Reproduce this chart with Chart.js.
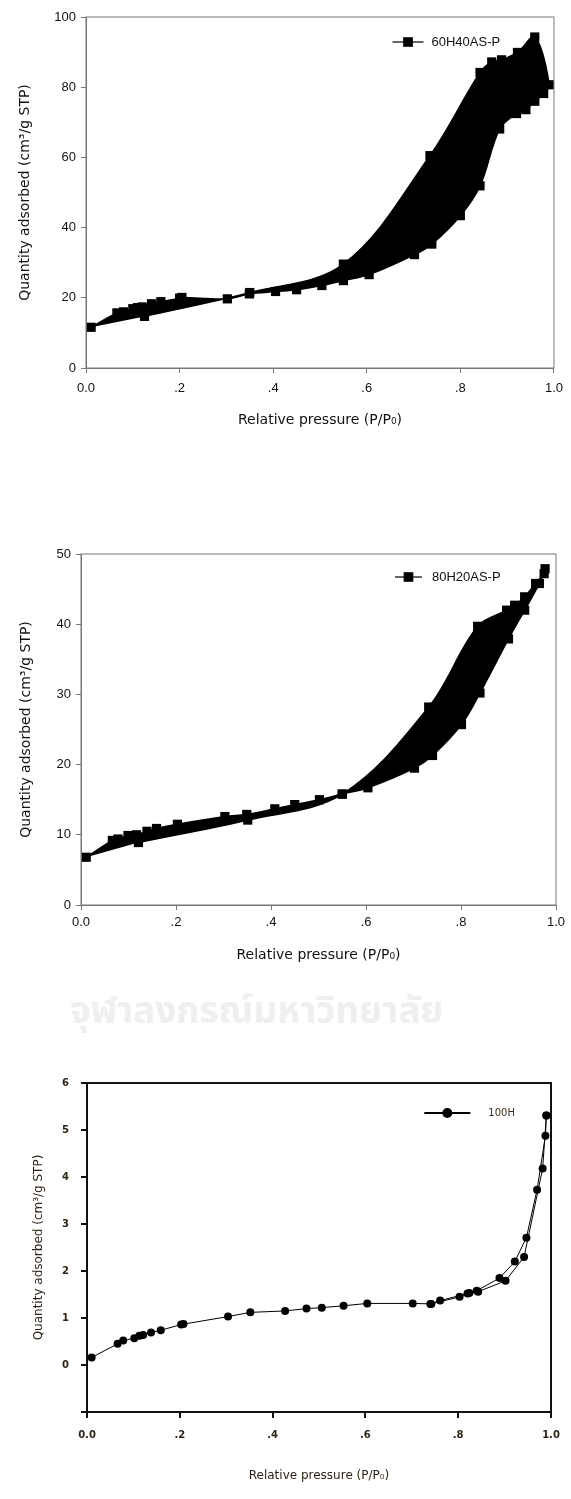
<!DOCTYPE html>
<html>
<head>
<meta charset="utf-8">
<script src="https://cdn.jsdelivr.net/npm/chart.js@4.4.0/dist/chart.umd.min.js"></script>
<style>
  body { margin: 0; background: #fff; }
  #page { position: relative; width: 571px; height: 1499px; overflow: hidden; }
  .box { position: absolute; left: 0; width: 571px; }
  .wm { position: absolute; color: #efefef; font-weight: bold; white-space: nowrap;
        font-family: "Noto Sans Thai", "Noto Sans", "DejaVu Sans", sans-serif; }
</style>
</head>
<body>
<div id="page">
  <div class="box" style="top:0;height:440px"><canvas id="c60"></canvas></div>
  <div class="wm" style="left:70px;top:984px;font-size:37px">จุฬาลงกรณ์มหาวิทยาลัย</div>
  <div class="box" style="top:500px;height:470px"><canvas id="c80"></canvas></div>
  <div class="box" style="top:1040px;height:459px"><canvas id="c100"></canvas></div>
</div>
<script>
// 60H40AS-P : adsorption then desorption branch
var p60Ads = [0.011, 0.066, 0.080, 0.100, 0.110, 0.120, 0.140, 0.160, 0.200, 0.205, 0.302, 0.349, 0.405, 0.450, 0.504, 0.550, 0.605, 0.702, 0.739, 0.800, 0.842, 0.884, 0.920, 0.940, 0.959, 0.978, 0.990];
var q60Ads = [11.6, 15.7, 16.0, 16.9, 17.2, 17.4, 18.3, 18.9, 19.9, 20.1, 19.7, 21.1, 21.8, 22.3, 23.5, 24.9, 26.6, 32.3, 35.3, 43.4, 51.9, 68.1, 72.5, 73.6, 76.0, 78.2, 80.7];
var p60Des = [0.959, 0.922, 0.888, 0.867, 0.842, 0.735, 0.550, 0.350, 0.125];
var q60Des = [94.3, 89.9, 87.8, 87.2, 84.2, 60.5, 29.6, 21.5, 14.7];

// 80H20AS-P
var p80Ads = [0.011, 0.066, 0.078, 0.099, 0.117, 0.139, 0.159, 0.203, 0.303, 0.349, 0.408, 0.450, 0.502, 0.550, 0.604, 0.702, 0.740, 0.801, 0.840, 0.900, 0.934, 0.965, 0.977];
var q80Ads = [6.8, 9.2, 9.4, 9.9, 10.0, 10.5, 10.9, 11.5, 12.6, 12.9, 13.7, 14.3, 15.0, 15.8, 16.7, 19.5, 21.3, 25.7, 30.2, 37.9, 42.0, 45.8, 47.9];
var p80Des = [0.975, 0.957, 0.934, 0.913, 0.896, 0.835, 0.732, 0.550, 0.351, 0.121];
var q80Des = [47.2, 45.8, 43.9, 42.7, 42.0, 39.7, 28.2, 15.8, 12.1, 8.9];

// 100H
var p100Ads = [0.010, 0.066, 0.078, 0.102, 0.113, 0.121, 0.138, 0.159, 0.203, 0.208, 0.304, 0.352, 0.427, 0.473, 0.506, 0.553, 0.604, 0.702, 0.742, 0.803, 0.824, 0.843, 0.902, 0.942, 0.982, 0.990];
var q100Ads = [0.16, 0.45, 0.52, 0.57, 0.62, 0.64, 0.69, 0.74, 0.86, 0.87, 1.03, 1.12, 1.15, 1.20, 1.22, 1.26, 1.31, 1.31, 1.30, 1.45, 1.53, 1.56, 1.79, 2.30, 4.18, 5.31];
var p100Des = [0.990, 0.988, 0.970, 0.947, 0.922, 0.889, 0.840, 0.820, 0.761, 0.740];
var q100Des = [5.31, 4.88, 3.73, 2.71, 2.20, 1.85, 1.58, 1.52, 1.37, 1.30];

var xTicks = [0, 0.2, 0.4, 0.6, 0.8, 1.0];
var xTitle = 'Relative pressure (P/P\u2080)';
var yTitle = 'Quantity adsorbed (cm\u00b3/g STP)';

function pts(px, py) {
  return px.map(function (p, i) { return { x: p, y: py[i] }; });
}

function fmtP(v) {
  var s = Number(v).toFixed(1);
  return (s === '0.0' || s === '1.0') ? s : s.replace(/^0/, '');
}

var frame = {
  id: 'frame',
  afterDraw: function (chart, args, o) {
    var a = chart.chartArea, ctx = chart.ctx;
    ctx.save();
    ctx.strokeStyle = o.color;
    ctx.lineWidth = o.width;
    ctx.strokeRect(a.left, a.top, a.right - a.left, a.bottom - a.top);
    ctx.restore();
  }
};

// legend drawn inside the plot: line + marker + label
var keyLegend = {
  id: 'keyLegend',
  afterDatasetsDraw: function (chart, args, o) {
    var a = chart.chartArea, ctx = chart.ctx;
    var x0 = a.left + o.fx * (a.right - a.left), y = a.top + o.dy;
    ctx.save();
    ctx.strokeStyle = '#000';
    ctx.fillStyle = '#000';
    ctx.lineWidth = o.lineWidth;
    ctx.beginPath(); ctx.moveTo(x0, y); ctx.lineTo(x0 + o.len, y); ctx.stroke();
    Chart.helpers.drawPoint(ctx, { pointStyle: o.style, radius: o.radius, borderWidth: 1 }, x0 + o.len / 2, y);
    ctx.fillStyle = o.color;
    ctx.font = o.font;
    ctx.textBaseline = 'middle';
    ctx.fillText(chart.data.datasets[0].label, x0 + o.len + o.gap, y);
    ctx.restore();
  }
};

function axes(o) {
  return {
    x: {
      type: 'linear', min: 0, max: 1,
      afterFit: function (s) { s.height = o.xh; },
      afterBuildTicks: function (s) { s.ticks = xTicks.map(function (v) { return { value: v }; }); },
      ticks: { padding: o.xpad, color: o.tc, font: o.tf, maxRotation: 0, callback: fmtP },
      grid: { drawOnChartArea: false, drawTicks: true, tickLength: o.tl, color: o.ac, lineWidth: o.aw },
      border: { color: o.ac, width: o.aw },
      title: { display: true, text: xTitle, color: o.tc, font: o.ttf, padding: { top: 0, bottom: o.xtp } }
    },
    y: {
      type: 'linear', min: o.ymin, max: o.ymax,
      afterFit: function (s) { s.width = o.yw; },
      ticks: { stepSize: o.ystep, padding: o.ypad, color: o.tc, font: o.tf,
               callback: function (v) { return v < 0 ? '' : v; } },
      grid: { drawOnChartArea: false, drawTicks: true, tickLength: o.tl, color: o.ac, lineWidth: o.aw },
      border: { color: o.ac, width: o.aw },
      title: { display: true, text: yTitle, color: o.tc, font: o.ttf, padding: { top: o.ytp, bottom: 0 } }
    }
  };
}

var sansTick = { family: 'Liberation Sans, Arial, sans-serif', size: 13 };
var sansTitle = { family: 'DejaVu Sans, sans-serif', size: 14 };

// chart 1: 60H40AS-P (hysteresis loop filled)
new Chart(document.getElementById('c60'), {
  type: 'line',
  data: {
    datasets: [{
      label: '60H40AS-P',
      data: pts(p60Ads.concat(p60Des), q60Ads.concat(q60Des)),
      borderColor: '#000', backgroundColor: '#000', borderWidth: 1.5,
      fill: 'shape', tension: 0.35,
      pointStyle: 'rect', pointRadius: 6.5, pointBackgroundColor: '#000', pointBorderWidth: 0
    }]
  },
  options: {
    responsive: true, maintainAspectRatio: false, animation: false, devicePixelRatio: 1,
    layout: { padding: { top: 17, right: 8, left: 0, bottom: 0 } },
    plugins: {
      legend: { display: false }, tooltip: { enabled: false },
      frame: { color: '#777', width: 1 },
      keyLegend: { fx: 0.655, dy: 25, len: 31, gap: 8, radius: 6, style: 'rect', lineWidth: 1.2,
                   color: '#111', font: '13px "Liberation Sans", Arial, sans-serif' }
    },
    scales: axes({ xh: 72, xpad: 8, yw: 86, ypad: 5, tl: 5, tc: '#111', ac: '#777', aw: 1,
                   tf: sansTick, ttf: sansTitle, xtp: 11, ytp: 17, ymin: 0, ymax: 100, ystep: 20 })
  },
  plugins: [frame, keyLegend]
});

// chart 2: 80H20AS-P
new Chart(document.getElementById('c80'), {
  type: 'line',
  data: {
    datasets: [{
      label: '80H20AS-P',
      data: pts(p80Ads.concat(p80Des), q80Ads.concat(q80Des)),
      borderColor: '#000', backgroundColor: '#000', borderWidth: 1.5,
      fill: 'shape', tension: 0.35,
      pointStyle: 'rect', pointRadius: 6.5, pointBackgroundColor: '#000', pointBorderWidth: 0
    }]
  },
  options: {
    responsive: true, maintainAspectRatio: false, animation: false, devicePixelRatio: 1,
    layout: { padding: { top: 54, right: 15, left: 0, bottom: 0 } },
    plugins: {
      legend: { display: false }, tooltip: { enabled: false },
      frame: { color: '#777', width: 1 },
      keyLegend: { fx: 0.661, dy: 23, len: 27, gap: 10, radius: 6, style: 'rect', lineWidth: 1.2,
                   color: '#111', font: '13px "Liberation Sans", Arial, sans-serif' }
    },
    scales: axes({ xh: 65, xpad: 5, yw: 81, ypad: 5, tl: 5, tc: '#111', ac: '#777', aw: 1,
                   tf: sansTick, ttf: sansTitle, xtp: 6, ytp: 18, ymin: 0, ymax: 50, ystep: 10 })
  },
  plugins: [frame, keyLegend]
});

// chart 3: 100H, adsorption and desorption as two thin lines
var smallTick = { family: 'DejaVu Sans, sans-serif', size: 10, weight: 'bold' };
var smallTitle = { family: 'DejaVu Sans, sans-serif', size: 12 };
new Chart(document.getElementById('c100'), {
  type: 'line',
  data: {
    datasets: [{
      label: '100H',
      data: pts(p100Ads, q100Ads),
      borderColor: '#000', borderWidth: 1, fill: false, tension: 0,
      pointStyle: 'circle', pointRadius: 4, pointBackgroundColor: '#000', pointBorderWidth: 0
    }, {
      label: '100H desorption',
      data: pts(p100Des, q100Des),
      borderColor: '#000', borderWidth: 1, fill: false, tension: 0,
      pointStyle: 'circle', pointRadius: 4, pointBackgroundColor: '#000', pointBorderWidth: 0
    }]
  },
  options: {
    responsive: true, maintainAspectRatio: false, animation: false, devicePixelRatio: 1,
    layout: { padding: { top: 43, right: 20, left: 0, bottom: 0 } },
    plugins: {
      legend: { display: false }, tooltip: { enabled: false },
      frame: { color: '#111', width: 2 },
      keyLegend: { fx: 0.727, dy: 30, len: 46, gap: 18, radius: 4, style: 'circle', lineWidth: 2,
                   color: '#3a2e22', font: '10px "DejaVu Sans", sans-serif' }
    },
    scales: axes({ xh: 87, xpad: 11, yw: 87, ypad: 12, tl: 6, tc: '#2e2418', ac: '#111', aw: 2,
                   tf: smallTick, ttf: smallTitle, xtp: 16, ytp: 32, ymin: -1, ymax: 6, ystep: 1 })
  },
  plugins: [frame, keyLegend]
});
</script>
</body>
</html>
